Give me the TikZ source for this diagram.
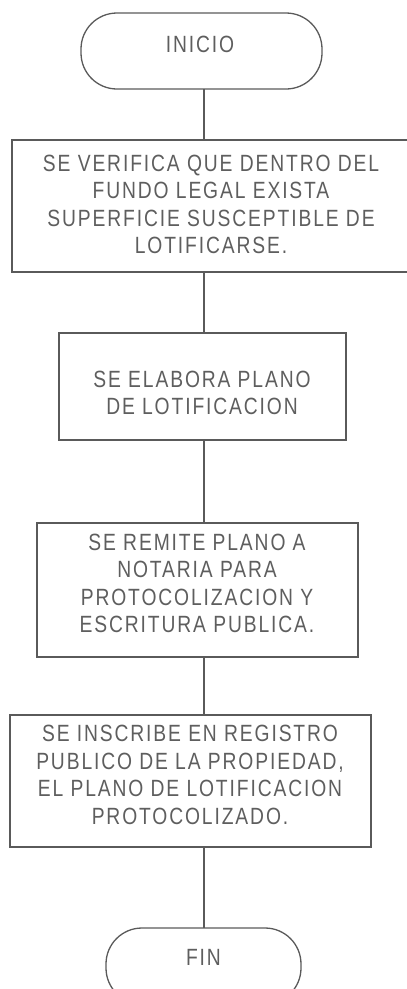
\documentclass[tikz,border=0pt]{standalone}
\usepackage{fontspec}
\newfontfamily\flowfont[LetterSpace=8,FakeStretch=0.82]{Liberation Sans}
\usetikzlibrary{calc}
\definecolor{inkline}{HTML}{5A5A5A}
\definecolor{inktext}{HTML}{5E5E5E}
\begin{document}
\begin{tikzpicture}[x=1pt,y=-1pt,
  line/.style={draw=inkline,line width=1.3pt},
  stepbox/.style={line,rectangle,inner sep=0pt,outer sep=0pt},
  term/.style={line,rectangle,rounded corners=36pt,inner sep=0pt,outer sep=0pt,minimum height=76pt},
  txt/.style={text=inktext,font=\flowfont\fontsize{23.5}{27.5}\selectfont,align=center,inner sep=0pt}]
\useasboundingbox (0,0) rectangle (407,989);
\clip (0,0) rectangle (407,989);
\coordinate (ax) at (204,0);
% shapes
\node[term,minimum width=241pt] (inicio) at (201.5,51) {};
\node[stepbox,minimum width=400pt,minimum height=132pt] (b1) at (212,206) {};
\node[stepbox,minimum width=287pt,minimum height=107pt] (b2) at (202.5,386.5) {};
\node[stepbox,minimum width=321pt,minimum height=134pt] (b3) at (197.5,590) {};
\node[stepbox,minimum width=361pt,minimum height=132pt] (b4) at (190.5,781) {};
\node[term,minimum width=195pt] (fin) at (203.5,966) {};
% texts
\node[txt] (tinicio) at (200,44.5) {INICIO};
\node[txt] (t1) at (211,204.5) {SE VERIFICA QUE DENTRO DEL\\FUNDO LEGAL EXISTA\\SUPERFICIE SUSCEPTIBLE DE\\LOTIFICARSE.};
\node[txt] (t2) at (202,393) {SE ELABORA PLANO\\DE LOTIFICACION};
\node[txt] (t3) at (197,583.5) {SE REMITE PLANO A\\NOTARIA PARA\\PROTOCOLIZACION Y\\ESCRITURA PUBLICA.};
\node[txt] (t4) at (190,775) {SE INSCRIBE EN REGISTRO\\PUBLICO DE LA PROPIEDAD,\\EL PLANO DE LOTIFICACION\\PROTOCOLIZADO.};
\node[txt] (tfin) at (203.5,957.5) {FIN};
% connectors
\draw[line] (inicio.south -| ax) -- (b1.north -| ax);
\draw[line] (b1.south -| ax) -- (b2.north -| ax);
\draw[line] (b2.south -| ax) -- (b3.north -| ax);
\draw[line] (b3.south -| ax) -- (b4.north -| ax);
\draw[line] (b4.south -| ax) -- (fin.north -| ax);
\end{tikzpicture}
\end{document}
